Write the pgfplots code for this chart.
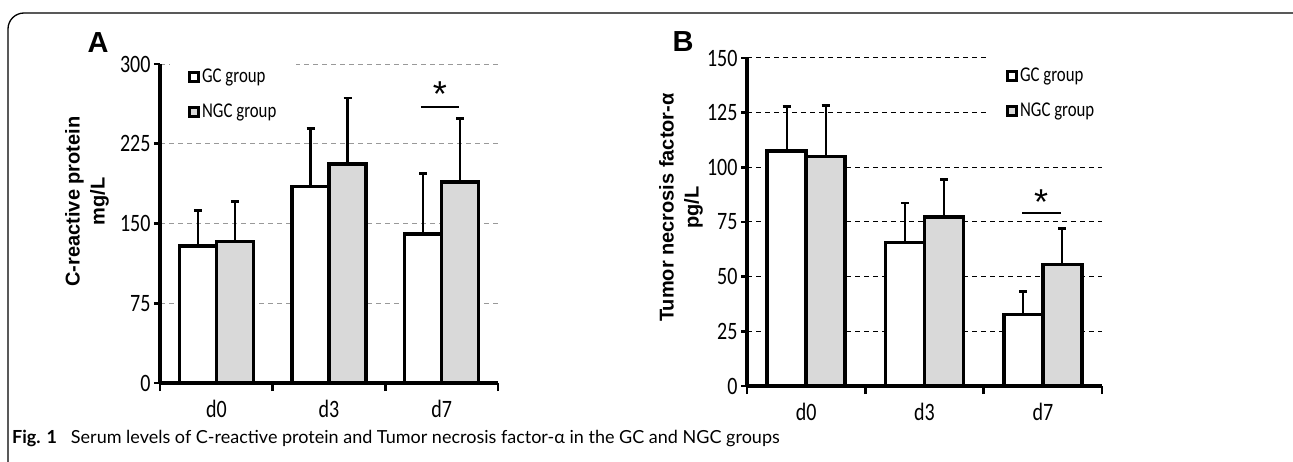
\documentclass[border=0pt]{standalone}
\usepackage{fontspec}
\usepackage{pgfplots}
\pgfplotsset{compat=1.18}
\setmainfont{Carlito}
\newfontfamily\tickfont[FakeStretch=0.8]{Carlito}
\newfontfamily\legfont[FakeStretch=0.8]{Carlito}
\newfontfamily\labfont{Liberation Sans Bold}
\newfontfamily\letterfont{Liberation Sans Bold}
\newfontfamily\starfont{Liberation Sans}
\newfontfamily\capfont{Lato}
\definecolor{ngc}{RGB}{217,217,217}
\pgfplotsset{
  panel/.style={
    scale only axis, anchor=south west,
    ybar=0pt,
    xmin=-0.5, xmax=2.5, ymin=0,
    xtick={0,1,2}, xticklabels={d0,d3,d7},
    minor xtick={-0.5,0.5,1.5,2.5},
    axis x line*=bottom, axis y line*=left,
    axis line style={line width=3.5pt, black},
    tick align=outside,
    major tick length=6pt, minor tick length=8pt,
    tick style={black, line width=2.8pt},
    major x tick style={draw=none},
    ymajorgrids=true,
    /pgf/number format/assume math mode=true,
    ticklabel style={font=\tickfont\fontsize{25}{26}\selectfont},
    xticklabel style={inner sep=0pt, yshift=-11pt},
    ylabel style={align=center, font=\labfont\fontsize{20}{25}\selectfont, anchor=center},
    legend style={anchor=north west, draw=none, fill=white, inner xsep=18pt, inner ysep=10pt,
      row sep=16pt, font=\legfont\fontsize{21}{22}\selectfont},
    legend cell align=left,
    legend image code/.code={\draw[#1, line width=2.8pt] (0pt,-4.5pt) rectangle (9pt,4.5pt);},
    error bars/y dir=plus, error bars/y explicit,
    error bars/error bar style={line width=2.2pt, black},
    error bars/error mark options={rotate=90, line width=2.8pt, black, mark size=4pt},
  },
  gcbar/.style={draw=black, fill=white, line width=3.5pt},
  ngcbar/.style={draw=black, fill=ngc, line width=3.5pt},
}
\begin{document}
\begin{tikzpicture}
\useasboundingbox (0,0) rectangle (1293pt,461pt);
\draw[line width=1.3pt, rounded corners=16pt] (8pt,-30pt) -- (8pt,448pt) -- (1310pt,448pt) -- (1310pt,-30pt);

\begin{axis}[panel,
  width=338pt, height=319pt, at={(160pt,78pt)},
  bar width=37pt,
  ymax=300, ytick={0,75,150,225,300},
  major grid style={dash pattern=on 5pt off 4pt, gray!80, line width=1pt},
  ylabel={C-reactive protein\\mg/L},
  ylabel style={at={(axis description cs:-0.216,0.569)}},
  legend style={at={(axis description cs:0.03,1.022)}},
]
\addplot[gcbar] coordinates {(0,129) +- (0,33) (1,185) +- (0,54) (2,140) +- (0,57)};
\addplot[ngcbar] coordinates {(0,133) +- (0,37.5) (1,206) +- (0,62) (2,189) +- (0,60)};
\legend{GC group, NGC group}
\draw[line width=2pt] (axis cs:1.816,260) -- (axis cs:2.153,260);
\node[font=\starfont\fontsize{36}{36}\selectfont] at (axis cs:1.985,272) {*};
\end{axis}

\begin{axis}[panel,
  width=355pt, height=328pt, at={(747pt,75pt)},
  bar width=39pt,
  ymax=150, ytick={0,25,50,75,100,125,150},
  major grid style={dash pattern=on 5pt off 4pt, black, line width=1pt},
  ylabel={Tumor necrosis factor-α\\pg/L},
  ylabel style={at={(axis description cs:-0.186,0.544)}},
  legend style={at={(axis description cs:0.679,1.006)}},
]
\addplot[gcbar] coordinates {(0,107.5) +- (0,20.5) (1,65.7) +- (0,18) (2,32.8) +- (0,10.3)};
\addplot[ngcbar] coordinates {(0,104.9) +- (0,23.4) (1,77.4) +- (0,17.2) (2,55.6) +- (0,16.6)};
\legend{GC group, NGC group}
\draw[line width=2pt] (axis cs:1.825,79) -- (axis cs:2.154,79);
\node[font=\starfont\fontsize{36}{36}\selectfont] at (axis cs:1.985,84) {*};
\end{axis}

\node[font=\letterfont\fontsize{29}{30}\selectfont] at (98pt,418pt) {A};
\node[font=\letterfont\fontsize{29}{30}\selectfont] at (683pt,419pt) {B};
\node[anchor=base west, inner sep=0pt, font=\capfont\fontsize{18}{20}\selectfont] at (12pt,18pt)
  {\textbf{Fig. 1}\hspace{14pt}Serum levels of C-reactive protein and Tumor necrosis factor-α in the GC and NGC groups};
\end{tikzpicture}
\end{document}
